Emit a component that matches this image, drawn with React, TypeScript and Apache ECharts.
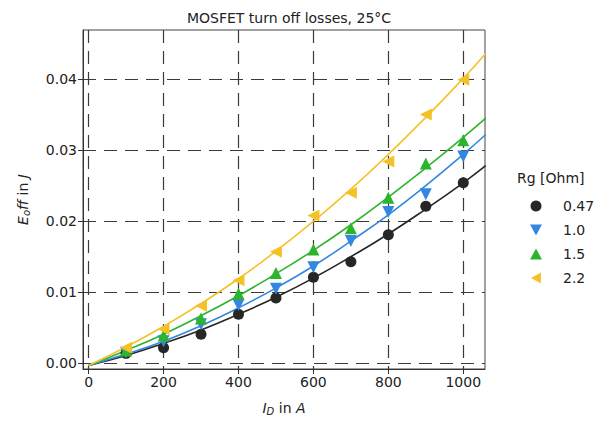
import React, { useEffect, useRef } from "react";
import * as echarts from "echarts";

// Measured turn-off energy (J) per drain current (A), one list per gate resistance
const currents = [100, 200, 300, 400, 500, 600, 700, 800, 900, 1000];
const eoffRg047 = [0.0014, 0.0022, 0.0041, 0.0069, 0.0092, 0.0121, 0.0143, 0.0181, 0.0221, 0.0254];
const eoffRg10 = [0.0015, 0.0031, 0.0055, 0.0082, 0.0105, 0.0135, 0.0172, 0.0213, 0.0238, 0.0291];
const eoffRg15 = [0.0018, 0.0039, 0.0063, 0.0098, 0.0127, 0.016, 0.019, 0.0233, 0.0281, 0.0314];
const eoffRg22 = [0.0022, 0.0048, 0.0081, 0.0117, 0.0157, 0.0208, 0.024, 0.0284, 0.035, 0.0399];

// Fitted loss curves
const fitCurrents = [0, 100, 200, 300, 400, 500, 600, 700, 800, 900, 1000, 1060];
const fitRg047 = [-0.0003, 0.0011, 0.0028, 0.0047, 0.0069, 0.0093, 0.012, 0.015, 0.0182, 0.0217, 0.0254, 0.0278];
const fitRg10 = [-0.0003, 0.0013, 0.0031, 0.0053, 0.0078, 0.0106, 0.0137, 0.0172, 0.0209, 0.025, 0.0294, 0.0322];
const fitRg15 = [-0.0003, 0.0018, 0.0041, 0.0067, 0.0095, 0.0126, 0.0159, 0.0195, 0.0234, 0.0275, 0.0318, 0.0345];
const fitRg22 = [-0.0003, 0.0023, 0.0052, 0.0084, 0.0119, 0.0158, 0.02, 0.0245, 0.0294, 0.0346, 0.0401, 0.0436];

const rgLabels = ["0.47", "1.0", "1.5", "2.2"];
const xTicks = [0, 200, 400, 600, 800, 1000];
const yTicks = [0, 0.01, 0.02, 0.03, 0.04];

const FONT = "DejaVu Sans";
const colors = ["#262626", "#3288de", "#2db42d", "#f4c228"];
const symbols = ["circle", "triangle", "triangle", "triangle"];
const rotations = [0, 180, 0, 90];
// Legend glyphs: circle, down, up and left-pointing triangles
const legendIcons = [
  "circle",
  "path://M0,0 L10,0 L5,9 Z",
  "path://M5,0 L10,9 L0,9 Z",
  "path://M9,0 L9,10 L0,5 Z",
];

const pairs = (xs: number[], ys: number[]) => xs.map((x, i) => [x, ys[i]]);

export default function App() {
  const ref = useRef<HTMLDivElement>(null);

  useEffect(() => {
    if (!ref.current) return;
    const chart = echarts.init(ref.current, undefined, { renderer: "svg" });

    const measured = [eoffRg047, eoffRg10, eoffRg15, eoffRg22];
    const fits = [fitRg047, fitRg10, fitRg15, fitRg22];

    const lineSeries = fits.map((f, i) => ({
      name: "fit " + rgLabels[i],
      type: "line",
      data: pairs(fitCurrents, f),
      smooth: true,
      showSymbol: false,
      lineStyle: { color: colors[i], width: 1.6 },
      itemStyle: { color: colors[i] },
      z: 2,
      silent: true,
    }));

    const scatterSeries = measured.map((m, i) => ({
      name: rgLabels[i],
      type: "scatter",
      data: pairs(currents, m),
      symbol: symbols[i],
      symbolRotate: rotations[i],
      symbolSize: i === 0 ? 11 : 12,
      itemStyle: { color: colors[i], opacity: 1 },
      z: 3,
    }));

    const italic = { fontFamily: FONT, fontStyle: "italic", fontSize: 14, color: "#222" };
    const sub = { fontFamily: FONT, fontStyle: "italic", fontSize: 10, color: "#222", verticalAlign: "bottom", padding: [6, 0, 0, 0] };

    chart.setOption({
      animation: false,
      backgroundColor: "#ffffff",
      title: {
        text: "MOSFET turn off losses, 25°C",
        left: 284,
        textAlign: "center",
        top: 6,
        textStyle: { fontFamily: FONT, fontSize: 14, fontWeight: "normal", color: "#222" },
      },
      grid: {
        left: 83,
        right: 120,
        top: 30,
        bottom: 43,
        show: true,
        borderColor: "#444",
        borderWidth: 1,
        backgroundColor: "transparent",
      },
      legend: {
        orient: "vertical",
        left: 525,
        top: 194,
        itemWidth: 12,
        itemHeight: 11,
        itemGap: 10,
        data: rgLabels.map((name, i) => ({ name, icon: legendIcons[i] })),
        textStyle: { fontFamily: FONT, fontSize: 14, color: "#222", padding: [0, 0, 0, 16] },
      },
      graphic: [
        {
          type: "text",
          left: 517,
          top: 171,
          style: { text: "Rg [Ohm]", font: `14px "${FONT}"`, fill: "#222" },
        },
      ],
      xAxis: {
        type: "value",
        min: -15,
        max: 1058,
        name: "{i|I}{s|D} in {i|A}",
        nameLocation: "middle",
        nameGap: 31,
        nameTextStyle: { rich: { i: italic, s: sub }, fontFamily: FONT, fontSize: 14, color: "#222" },
        axisLine: { show: true, onZero: false, lineStyle: { color: "#333", width: 1 } },
        axisTick: { show: true, length: 5, customValues: xTicks, lineStyle: { color: "#333" } },
        axisLabel: {
          customValues: xTicks,
          fontFamily: FONT,
          fontSize: 14,
          color: "#222",
          margin: 6,
          formatter: (v: number) => String(v),
        },
        splitLine: { show: true, lineStyle: { color: "#3a3a3a", type: [13, 8], width: 1.2 } },
      },
      yAxis: {
        type: "value",
        min: -0.0008,
        max: 0.0469,
        name: "{i|E}{s|o}{i|ff} in {i|J}",
        nameLocation: "middle",
        nameGap: 52,
        nameRotate: 90,
        nameTextStyle: { rich: { i: italic, s: sub }, fontFamily: FONT, fontSize: 14, color: "#222" },
        axisLine: { show: true, onZero: false, lineStyle: { color: "#333", width: 1 } },
        axisTick: { show: true, length: 5, customValues: yTicks, lineStyle: { color: "#333" } },
        axisLabel: {
          customValues: yTicks,
          fontFamily: FONT,
          fontSize: 14,
          color: "#222",
          margin: 6,
          formatter: (v: number) => v.toFixed(2),
        },
        splitLine: { show: true, lineStyle: { color: "#3a3a3a", type: [13, 8], width: 1.2 } },
      },
      series: [...lineSeries, ...scatterSeries],
    });

    return () => chart.dispose();
  }, []);

  return <div ref={ref} style={{ position: "fixed", left: 0, top: 0, width: 605, height: 421 }} />;
}
